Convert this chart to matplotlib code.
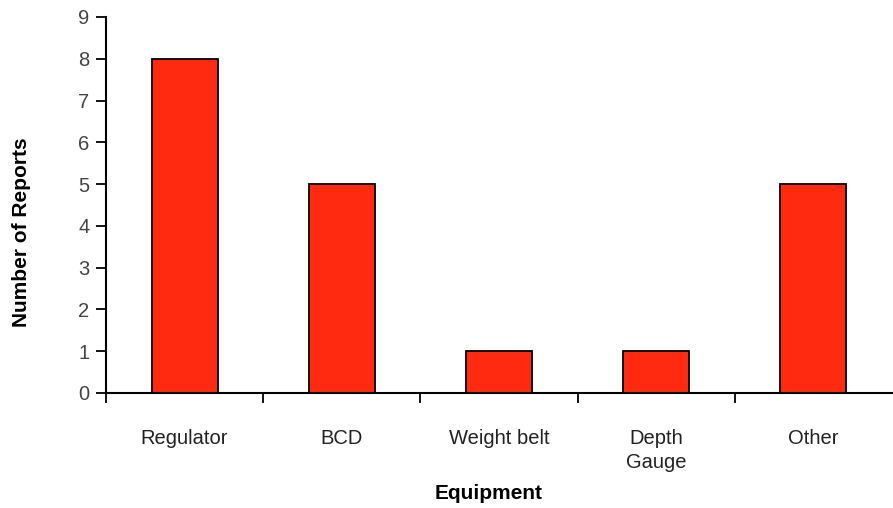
import matplotlib
matplotlib.use("Agg")
import matplotlib.pyplot as plt
from matplotlib.ticker import FixedLocator

categories = ["Regulator", "BCD", "Weight belt", "Depth\nGauge", "Other"]
reports = [8, 5, 1, 1, 5]

plt.rcParams['font.family'] = ['Liberation Sans', 'DejaVu Sans']

fig = plt.figure(figsize=(8.93, 5.08), dpi=100)
ax = fig.add_axes([106/893, 115/508, 786/893, 376/508])

x = list(range(len(categories)))
ax.bar(x, reports, width=0.42, color="#ff2a10", edgecolor="black", linewidth=1.3, zorder=2)

ax.set_xlim(-0.5, len(categories) - 0.5)
ax.set_ylim(0, 9)
ax.set_yticks(range(0, 10))
ax.set_xticks(x)
ax.set_xticklabels(categories, fontsize=14.5, color="#222222", linespacing=1.3)
ax.xaxis.set_minor_locator(FixedLocator([i - 0.5 for i in range(len(categories))]))
ax.tick_params(axis='x', which='major', length=0, pad=26)
ax.tick_params(axis='x', which='minor', length=7, width=1.3, direction='out')
ax.tick_params(axis='y', length=7, width=1.3, direction='out', labelsize=14.5, pad=5, labelcolor="#444444")

for s in ['top', 'right']:
    ax.spines[s].set_visible(False)
for s in ['left', 'bottom']:
    ax.spines[s].set_linewidth(1.5)

ax.set_xlabel("Equipment", fontsize=15, fontweight='bold', va='center')
ax.xaxis.set_label_coords(0.487, -0.266)
ax.set_ylabel("Number of Reports", fontsize=15, fontweight='bold', va='center')
ax.yaxis.set_label_coords(-0.107, 0.428)

fig.savefig("out.png", dpi=100)
